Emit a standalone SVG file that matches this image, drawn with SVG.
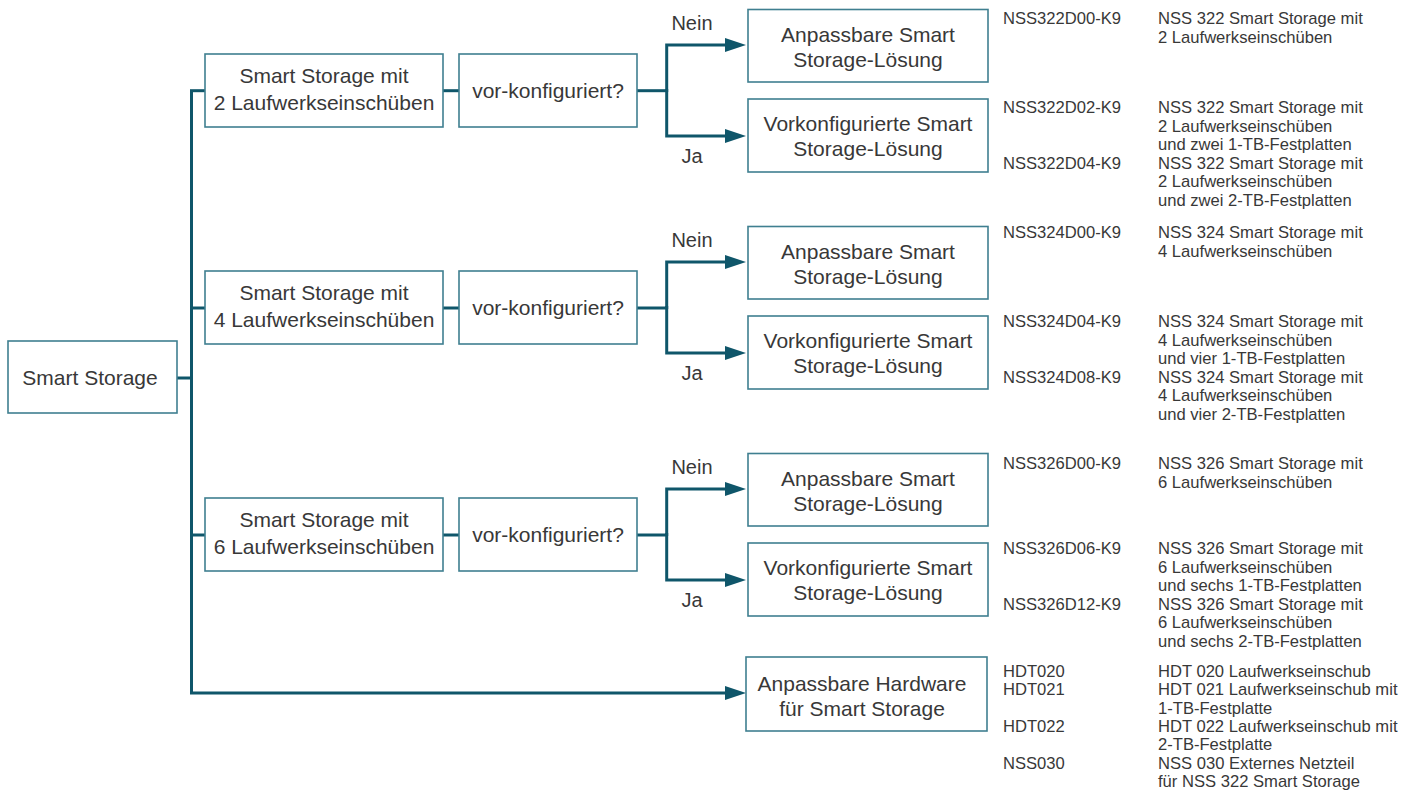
<svg xmlns="http://www.w3.org/2000/svg" width="1419" height="794" viewBox="0 0 1419 794">
<style>
.box{fill:#fff;stroke:#3f7f90;stroke-width:1.6}
.lbl{font-family:"Liberation Sans",Arial,sans-serif;font-size:21px;fill:#383838;text-anchor:middle}
.br{font-family:"Liberation Sans",Arial,sans-serif;font-size:20px;fill:#383838;text-anchor:middle}
.tb{font-family:"Liberation Sans",Arial,sans-serif;font-size:16.6px;fill:#383838}
.ln{fill:none;stroke:#0f566a;stroke-width:3}
</style>
<defs>
<marker id="ah" markerUnits="userSpaceOnUse" markerWidth="22" markerHeight="16" refX="10" refY="7" orient="auto">
<path d="M0,0 L21,7 L0,14 z" fill="#0f566a"/>
</marker>
</defs>
<rect width="1419" height="794" fill="#fff"/>

<g id="connectors">
<path class="ln" d="M177,378 H191.5"/>
<path class="ln" d="M191.5,90.7 V693"/>
<path class="ln" d="M190,90.7 H205"/>
<path class="ln" d="M190,308 H205"/>
<path class="ln" d="M190,535 H205"/>
<path class="ln" d="M190,693 H735" marker-end="url(#ah)"/>
<path class="ln" d="M443,90.7 H459"/>
<path class="ln" d="M443,308 H459"/>
<path class="ln" d="M443,535 H459"/>
<path class="ln" d="M637,90.7 H666.7"/>
<path class="ln" d="M637,308 H666.7"/>
<path class="ln" d="M637,535 H666.7"/>
<path class="ln" d="M666.7,92 V45 H735" marker-end="url(#ah)"/>
<path class="ln" d="M666.7,89 V136 H735" marker-end="url(#ah)"/>
<path class="ln" d="M666.7,309 V262 H735" marker-end="url(#ah)"/>
<path class="ln" d="M666.7,306 V353 H735" marker-end="url(#ah)"/>
<path class="ln" d="M666.7,536 V489 H735" marker-end="url(#ah)"/>
<path class="ln" d="M666.7,533 V580 H735" marker-end="url(#ah)"/>
<text class="br" x="692" y="30">Nein</text>
<text class="br" x="692" y="163">Ja</text>
<text class="br" x="692" y="247">Nein</text>
<text class="br" x="692" y="380">Ja</text>
<text class="br" x="692" y="474">Nein</text>
<text class="br" x="692" y="607">Ja</text>
</g>

<g id="root">
<rect class="box" x="8" y="341" width="169" height="72"/>
<text class="lbl" x="90" y="385">Smart Storage</text>
</g>

<g id="ss2">
<rect class="box" x="205" y="54" width="238" height="73"/>
<text class="lbl" x="324" y="83">Smart Storage mit</text>
<text class="lbl" x="324" y="110">2 Laufwerkseinschüben</text>
</g>
<g id="q2">
<rect class="box" x="459" y="54" width="178" height="73"/>
<text class="lbl" x="548" y="98">vor-konfiguriert?</text>
</g>
<g id="a2">
<rect class="box" x="748" y="9.5" width="240" height="72.5"/>
<text class="lbl" x="868" y="42">Anpassbare Smart</text>
<text class="lbl" x="868" y="67">Storage-Lösung</text>
</g>
<g id="v2">
<rect class="box" x="748" y="99" width="240" height="73"/>
<text class="lbl" x="868" y="131">Vorkonfigurierte Smart</text>
<text class="lbl" x="868" y="156">Storage-Lösung</text>
</g>

<g id="ss4">
<rect class="box" x="205" y="271" width="238" height="73"/>
<text class="lbl" x="324" y="300">Smart Storage mit</text>
<text class="lbl" x="324" y="327">4 Laufwerkseinschüben</text>
</g>
<g id="q4">
<rect class="box" x="459" y="271" width="178" height="73"/>
<text class="lbl" x="548" y="315">vor-konfiguriert?</text>
</g>
<g id="a4">
<rect class="box" x="748" y="226.5" width="240" height="72.5"/>
<text class="lbl" x="868" y="259">Anpassbare Smart</text>
<text class="lbl" x="868" y="284">Storage-Lösung</text>
</g>
<g id="v4">
<rect class="box" x="748" y="316" width="240" height="73"/>
<text class="lbl" x="868" y="348">Vorkonfigurierte Smart</text>
<text class="lbl" x="868" y="373">Storage-Lösung</text>
</g>

<g id="ss6">
<rect class="box" x="205" y="498" width="238" height="73"/>
<text class="lbl" x="324" y="527">Smart Storage mit</text>
<text class="lbl" x="324" y="554">6 Laufwerkseinschüben</text>
</g>
<g id="q6">
<rect class="box" x="459" y="498" width="178" height="73"/>
<text class="lbl" x="548" y="542">vor-konfiguriert?</text>
</g>
<g id="a6">
<rect class="box" x="748" y="453.5" width="240" height="72.5"/>
<text class="lbl" x="868" y="486">Anpassbare Smart</text>
<text class="lbl" x="868" y="511">Storage-Lösung</text>
</g>
<g id="v6">
<rect class="box" x="748" y="543" width="240" height="73"/>
<text class="lbl" x="868" y="575">Vorkonfigurierte Smart</text>
<text class="lbl" x="868" y="600">Storage-Lösung</text>
</g>

<g id="hw">
<rect class="box" x="746" y="657" width="241" height="74"/>
<text class="lbl" x="862" y="691">Anpassbare Hardware</text>
<text class="lbl" x="862" y="716">für Smart Storage</text>
</g>

<g id="table">
<text class="tb" x="1003" y="24">NSS322D00-K9</text>
<text class="tb" x="1158" y="24">NSS 322 Smart Storage mit</text>
<text class="tb" x="1158" y="42.5">2 Laufwerkseinschüben</text>
<text class="tb" x="1003" y="113">NSS322D02-K9</text>
<text class="tb" x="1158" y="113">NSS 322 Smart Storage mit</text>
<text class="tb" x="1158" y="131.5">2 Laufwerkseinschüben</text>
<text class="tb" x="1158" y="150">und zwei 1-TB-Festplatten</text>
<text class="tb" x="1003" y="168.5">NSS322D04-K9</text>
<text class="tb" x="1158" y="168.5">NSS 322 Smart Storage mit</text>
<text class="tb" x="1158" y="187">2 Laufwerkseinschüben</text>
<text class="tb" x="1158" y="205.5">und zwei 2-TB-Festplatten</text>

<text class="tb" x="1003" y="238">NSS324D00-K9</text>
<text class="tb" x="1158" y="238">NSS 324 Smart Storage mit</text>
<text class="tb" x="1158" y="256.5">4 Laufwerkseinschüben</text>
<text class="tb" x="1003" y="327">NSS324D04-K9</text>
<text class="tb" x="1158" y="327">NSS 324 Smart Storage mit</text>
<text class="tb" x="1158" y="345.5">4 Laufwerkseinschüben</text>
<text class="tb" x="1158" y="364">und vier 1-TB-Festplatten</text>
<text class="tb" x="1003" y="382.5">NSS324D08-K9</text>
<text class="tb" x="1158" y="382.5">NSS 324 Smart Storage mit</text>
<text class="tb" x="1158" y="401">4 Laufwerkseinschüben</text>
<text class="tb" x="1158" y="419.5">und vier 2-TB-Festplatten</text>

<text class="tb" x="1003" y="469">NSS326D00-K9</text>
<text class="tb" x="1158" y="469">NSS 326 Smart Storage mit</text>
<text class="tb" x="1158" y="487.5">6 Laufwerkseinschüben</text>
<text class="tb" x="1003" y="554">NSS326D06-K9</text>
<text class="tb" x="1158" y="554">NSS 326 Smart Storage mit</text>
<text class="tb" x="1158" y="572.5">6 Laufwerkseinschüben</text>
<text class="tb" x="1158" y="591">und sechs 1-TB-Festplatten</text>
<text class="tb" x="1003" y="609.5">NSS326D12-K9</text>
<text class="tb" x="1158" y="609.5">NSS 326 Smart Storage mit</text>
<text class="tb" x="1158" y="628">6 Laufwerkseinschüben</text>
<text class="tb" x="1158" y="646.5">und sechs 2-TB-Festplatten</text>

<text class="tb" x="1003" y="677">HDT020</text>
<text class="tb" x="1158" y="677">HDT 020 Laufwerkseinschub</text>
<text class="tb" x="1003" y="695.3">HDT021</text>
<text class="tb" x="1158" y="695.3">HDT 021 Laufwerkseinschub mit</text>
<text class="tb" x="1158" y="713.6">1-TB-Festplatte</text>
<text class="tb" x="1003" y="732">HDT022</text>
<text class="tb" x="1158" y="732">HDT 022 Laufwerkseinschub mit</text>
<text class="tb" x="1158" y="750.3">2-TB-Festplatte</text>
<text class="tb" x="1003" y="768.6">NSS030</text>
<text class="tb" x="1158" y="768.6">NSS 030 Externes Netzteil</text>
<text class="tb" x="1158" y="787">für NSS 322 Smart Storage</text>
</g>
</svg>
